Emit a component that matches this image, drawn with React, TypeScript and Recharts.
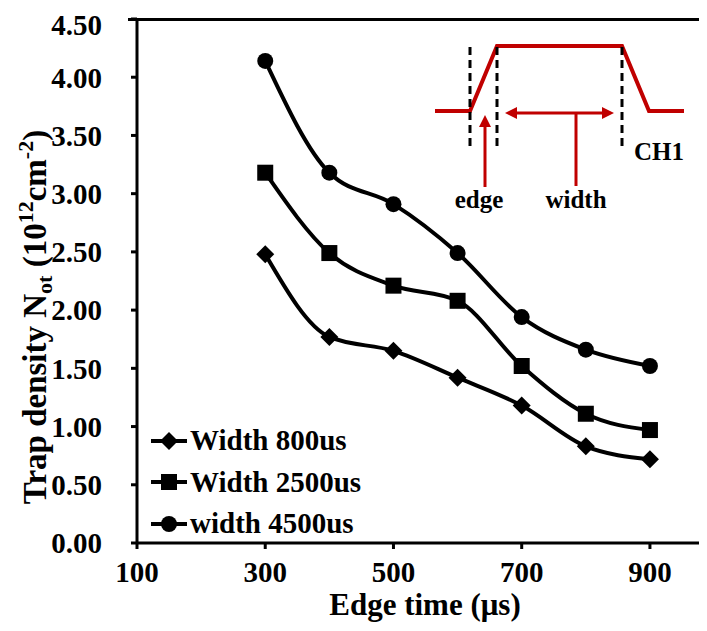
import React from 'react';
import { LineChart, Line, XAxis, YAxis, Legend } from 'recharts';

const edgeTimes = [300, 400, 500, 600, 700, 800, 900];
const width800 = [2.48, 1.77, 1.65, 1.42, 1.18, 0.83, 0.72];
const width2500 = [3.18, 2.49, 2.21, 2.08, 1.52, 1.11, 0.97];
const width4500 = [4.14, 3.18, 2.91, 2.49, 1.94, 1.66, 1.52];
const xTicks = [100, 300, 500, 700, 900];
const yTicks = [0, 0.5, 1, 1.5, 2, 2.5, 3, 3.5, 4, 4.5];

type Shape = 'diamond' | 'square' | 'circle';
const series: { key: string; name: string; shape: Shape }[] = [
  { key: 'w800', name: 'Width 800us', shape: 'diamond' },
  { key: 'w2500', name: 'Width 2500us', shape: 'square' },
  { key: 'w4500', name: 'width 4500us', shape: 'circle' },
];

const data = edgeTimes.map((t, i) => ({
  t,
  w800: width800[i],
  w2500: width2500[i],
  w4500: width4500[i],
}));

const FONT = '"Liberation Serif", "Times New Roman", serif';
const RED = '#C00000';

function Marker({ shape, cx, cy }: { shape: Shape; cx: number; cy: number }) {
  if (shape === 'diamond') {
    const r = 9;
    return <path d={`M${cx},${cy - r}L${cx + r},${cy}L${cx},${cy + r}L${cx - r},${cy}Z`} fill="#000" />;
  }
  if (shape === 'square') {
    return <rect x={cx - 8} y={cy - 8} width={16} height={16} fill="#000" />;
  }
  return <circle cx={cx} cy={cy} r={8} fill="#000" />;
}

const dotFor = (shape: Shape) => (p: any) => (
  <Marker key={`${shape}-${p.index}`} shape={shape} cx={p.cx} cy={p.cy} />
);

const YTitle = () => (
  <text
    transform="rotate(-90)"
    x={-309}
    y={38}
    textAnchor="middle"
    fontFamily={FONT}
    fontWeight="bold"
    fontSize={33}
    fill="#000"
  >
    Trap density N
    <tspan fontSize={22} dy={6}>ot</tspan>
    <tspan dy={-6}> (10</tspan>
    <tspan fontSize={22} dy={-13}>12</tspan>
    <tspan dy={13}>cm</tspan>
    <tspan fontSize={22} dy={-13}>-2</tspan>
    <tspan dy={13}>)</tspan>
  </text>
);

const XTitle = () => (
  <text x={417} y={607} textAnchor="middle" fontFamily={FONT} fontWeight="bold" fontSize={31} fill="#000">
    Edge time (μs)
  </text>
);

const LegendBox = () => (
  <div style={{ display: 'flex', flexDirection: 'column', fontFamily: FONT, fontWeight: 'bold', fontSize: 29 }}>
    {series.map((s) => (
      <div key={s.key} style={{ display: 'flex', alignItems: 'center', height: 41.5, whiteSpace: 'nowrap' }}>
        <svg width={40} height={22}>
          <line x1={1} x2={37} y1={11} y2={11} stroke="#000" strokeWidth={4} />
          <Marker shape={s.shape} cx={19} cy={11} />
        </svg>
        <span>{s.name}</span>
      </div>
    ))}
  </div>
);

// plot frame top edge and the pulse waveform sketch (page coordinates)
const Overlay = () => (
  <svg width={707} height={631} style={{ position: 'absolute', left: -8, top: -8, pointerEvents: 'none' }}>
    <line x1={128} x2={707} y1={19.5} y2={19.5} stroke="#000" strokeWidth={3} />
    <polyline
      points="435,111 470,111 497,46 622,46 649,111 684,111"
      fill="none"
      stroke={RED}
      strokeWidth={4}
    />
    {[470, 497, 622].map((x) => (
      <line key={x} x1={x} x2={x} y1={47} y2={148} stroke="#000" strokeWidth={3} strokeDasharray="8 5" />
    ))}
    {/* edge arrow */}
    <line x1={485} x2={485} y1={187} y2={124} stroke={RED} strokeWidth={3} />
    <path d="M485,115 L479,127 L491,127 Z" fill={RED} />
    {/* width double arrow */}
    <line x1={514} x2={605} y1={113} y2={113} stroke={RED} strokeWidth={3} />
    <path d="M505,113 L517,107 L517,119 Z" fill={RED} />
    <path d="M614,113 L602,107 L602,119 Z" fill={RED} />
    <line x1={576} x2={576} y1={113} y2={186} stroke={RED} strokeWidth={3} />
    <g fontFamily={FONT} fontWeight="bold" fontSize={25} fill="#000">
      <text x={479} y={208} textAnchor="middle">edge</text>
      <text x={576} y={208} textAnchor="middle">width</text>
      <text x={634} y={160}>CH1</text>
    </g>
  </svg>
);

export default function App() {
  const tickStyle = { fontFamily: FONT, fontWeight: 'bold', fontSize: 29, fill: '#000' };
  return (
    <div style={{ position: 'relative', width: 699, height: 615 }}>
      <LineChart width={699} height={615} data={data} margin={{ top: 11, right: 0, bottom: 0, left: 0 }}>
        <XAxis
          dataKey="t"
          type="number"
          domain={[100, 989]}
          ticks={xTicks}
          allowDataOverflow
          height={80}
          tickSize={6}
          tickMargin={12}
          tick={tickStyle}
          axisLine={{ stroke: '#000', strokeWidth: 3 }}
          tickLine={{ stroke: '#000', strokeWidth: 3 }}
          label={<XTitle />}
        />
        <YAxis
          type="number"
          domain={[0, 4.5]}
          ticks={yTicks}
          width={129}
          tickSize={6}
          tickMargin={29}
          tick={tickStyle}
          tickFormatter={(v: number) => v.toFixed(2)}
          axisLine={{ stroke: '#000', strokeWidth: 3 }}
          tickLine={{ stroke: '#000', strokeWidth: 3 }}
          label={<YTitle />}
        />
        <Legend
          layout="vertical"
          align="center"
          verticalAlign="middle"
          content={<LegendBox />}
          wrapperStyle={{ left: 142, top: 412, width: 280, height: 125 }}
        />
        {series.map((s) => (
          <Line
            key={s.key}
            dataKey={s.key}
            name={s.name}
            type="monotone"
            stroke="#000"
            strokeWidth={4}
            dot={dotFor(s.shape)}
            activeDot={false}
            isAnimationActive={false}
          />
        ))}
      </LineChart>
      <Overlay />
    </div>
  );
}
